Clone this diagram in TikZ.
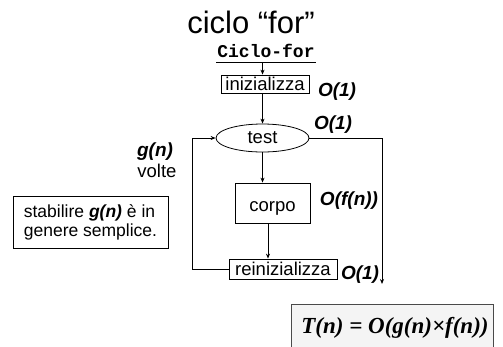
\documentclass[tikz,border=0pt]{standalone}
\usepackage{fontspec}
\setmainfont{Liberation Sans}
\newfontfamily\codefont{Liberation Mono}
\newfontfamily\formulafont{Liberation Serif}
\usetikzlibrary{arrows.meta,shapes.geometric}

\definecolor{boxgray}{HTML}{F4F4F4}
\definecolor{edgegray}{HTML}{4A4A4A}

\tikzset{
  labelfont/.style={font=\fontsize{18.5}{20}\selectfont},
  flowbox/.style={draw, line width=0.8pt, inner sep=0pt, labelfont, text depth=0pt},
  cost/.style={font=\fontsize{19}{21}\selectfont\bfseries\itshape},
  link/.style={line width=0.8pt, -{Stealth[length=5pt,width=4pt]}},
  wire/.style={line width=0.8pt}
}

\begin{document}
\begin{tikzpicture}[x=1pt,y=-1pt]
  \useasboundingbox (0,0) rectangle (503,346);

  % title
  \node[font=\fontsize{31}{34}\selectfont, anchor=base] (title) at (251,33) {ciclo “for”};

  % heading of the flow chart
  \node[font=\fontsize{18}{20}\selectfont\codefont\bfseries, anchor=base, inner sep=0pt] (cf) at (266,57) {Ciclo-for};
  \coordinate (cfline) at (266,62);
  \draw[line width=1pt] ([xshift=-50pt]cfline) -- ([xshift=50pt]cfline);

  % flow chart blocks (text height sets where the baseline sits in each block)
  \node[flowbox, minimum width=88pt, minimum height=18pt, text height=12pt] (init) at (265,84) {inizializza};
  \node[draw, ellipse, line width=0.8pt, minimum width=93pt, minimum height=28pt, inner sep=0pt,
        labelfont, text height=11pt, text depth=0pt] (test) at (262.5,138) {test};
  \node[flowbox, minimum width=75pt, minimum height=40pt, text height=17pt] (corpo) at (272.5,203) {corpo};
  \node[flowbox, minimum width=108pt, minimum height=20pt, text height=12pt] (reinit) at (283,269) {reinizializza};

  % costs
  \node[cost] (c1) at (337,92) {O(1)};
  \node[cost] (c2) at (333,125) {O(1)};
  \node[cost] (c3) at (349,201) {O(f(n))};
  \node[cost] (c4) at (360,275) {O(1)};

  % exit of the loop
  \coordinate (exitcorner) at (382,138);
  \coordinate (exitend) at (382,284);

  % connectors
  \draw[link] (cfline -| test) -- (init.north -| test);
  \draw[link] (init.south -| test) -- (test.north);
  \draw[link] (test.south) -- (corpo.north -| test);
  \draw[link] (corpo.south -| 268,0) -- (reinit.north -| 268,0);
  \draw[link] (test.east) -- (exitcorner) -- (exitend);
  \coordinate (loopbottom) at (192,269);
  \coordinate (looptop) at (192,138);
  \draw[link] (reinit.west) -- (loopbottom) -- (looptop) -- (test.west);

  % side notes
  \node[font=\fontsize{19}{21}\selectfont\bfseries\itshape] (gn) at (155,152) {g(n)};
  \node[font=\fontsize{18.5}{20}\selectfont] (volte) at (157,171) {volte};
  \node[draw, line width=0.8pt, minimum width=155pt, minimum height=52pt, inner sep=0pt,
        align=left, font=\fontsize{17.5}{19}\selectfont] (note) at (90.5,222)
        {stabilire \textbf{\textit{g(n)}} è in\\genere semplice.};

  % result
  \node[draw=edgegray, fill=boxgray, line width=1pt, minimum width=202pt, minimum height=60pt,
        anchor=north west, inner sep=0pt] (resbox) at (291,304) {};
  \node[font=\fontsize{23}{25}\selectfont\formulafont\bfseries\itshape, anchor=base] (formula) at (395,333)
        {T(n) = O(g(n)×f(n))};
\end{tikzpicture}
\end{document}
